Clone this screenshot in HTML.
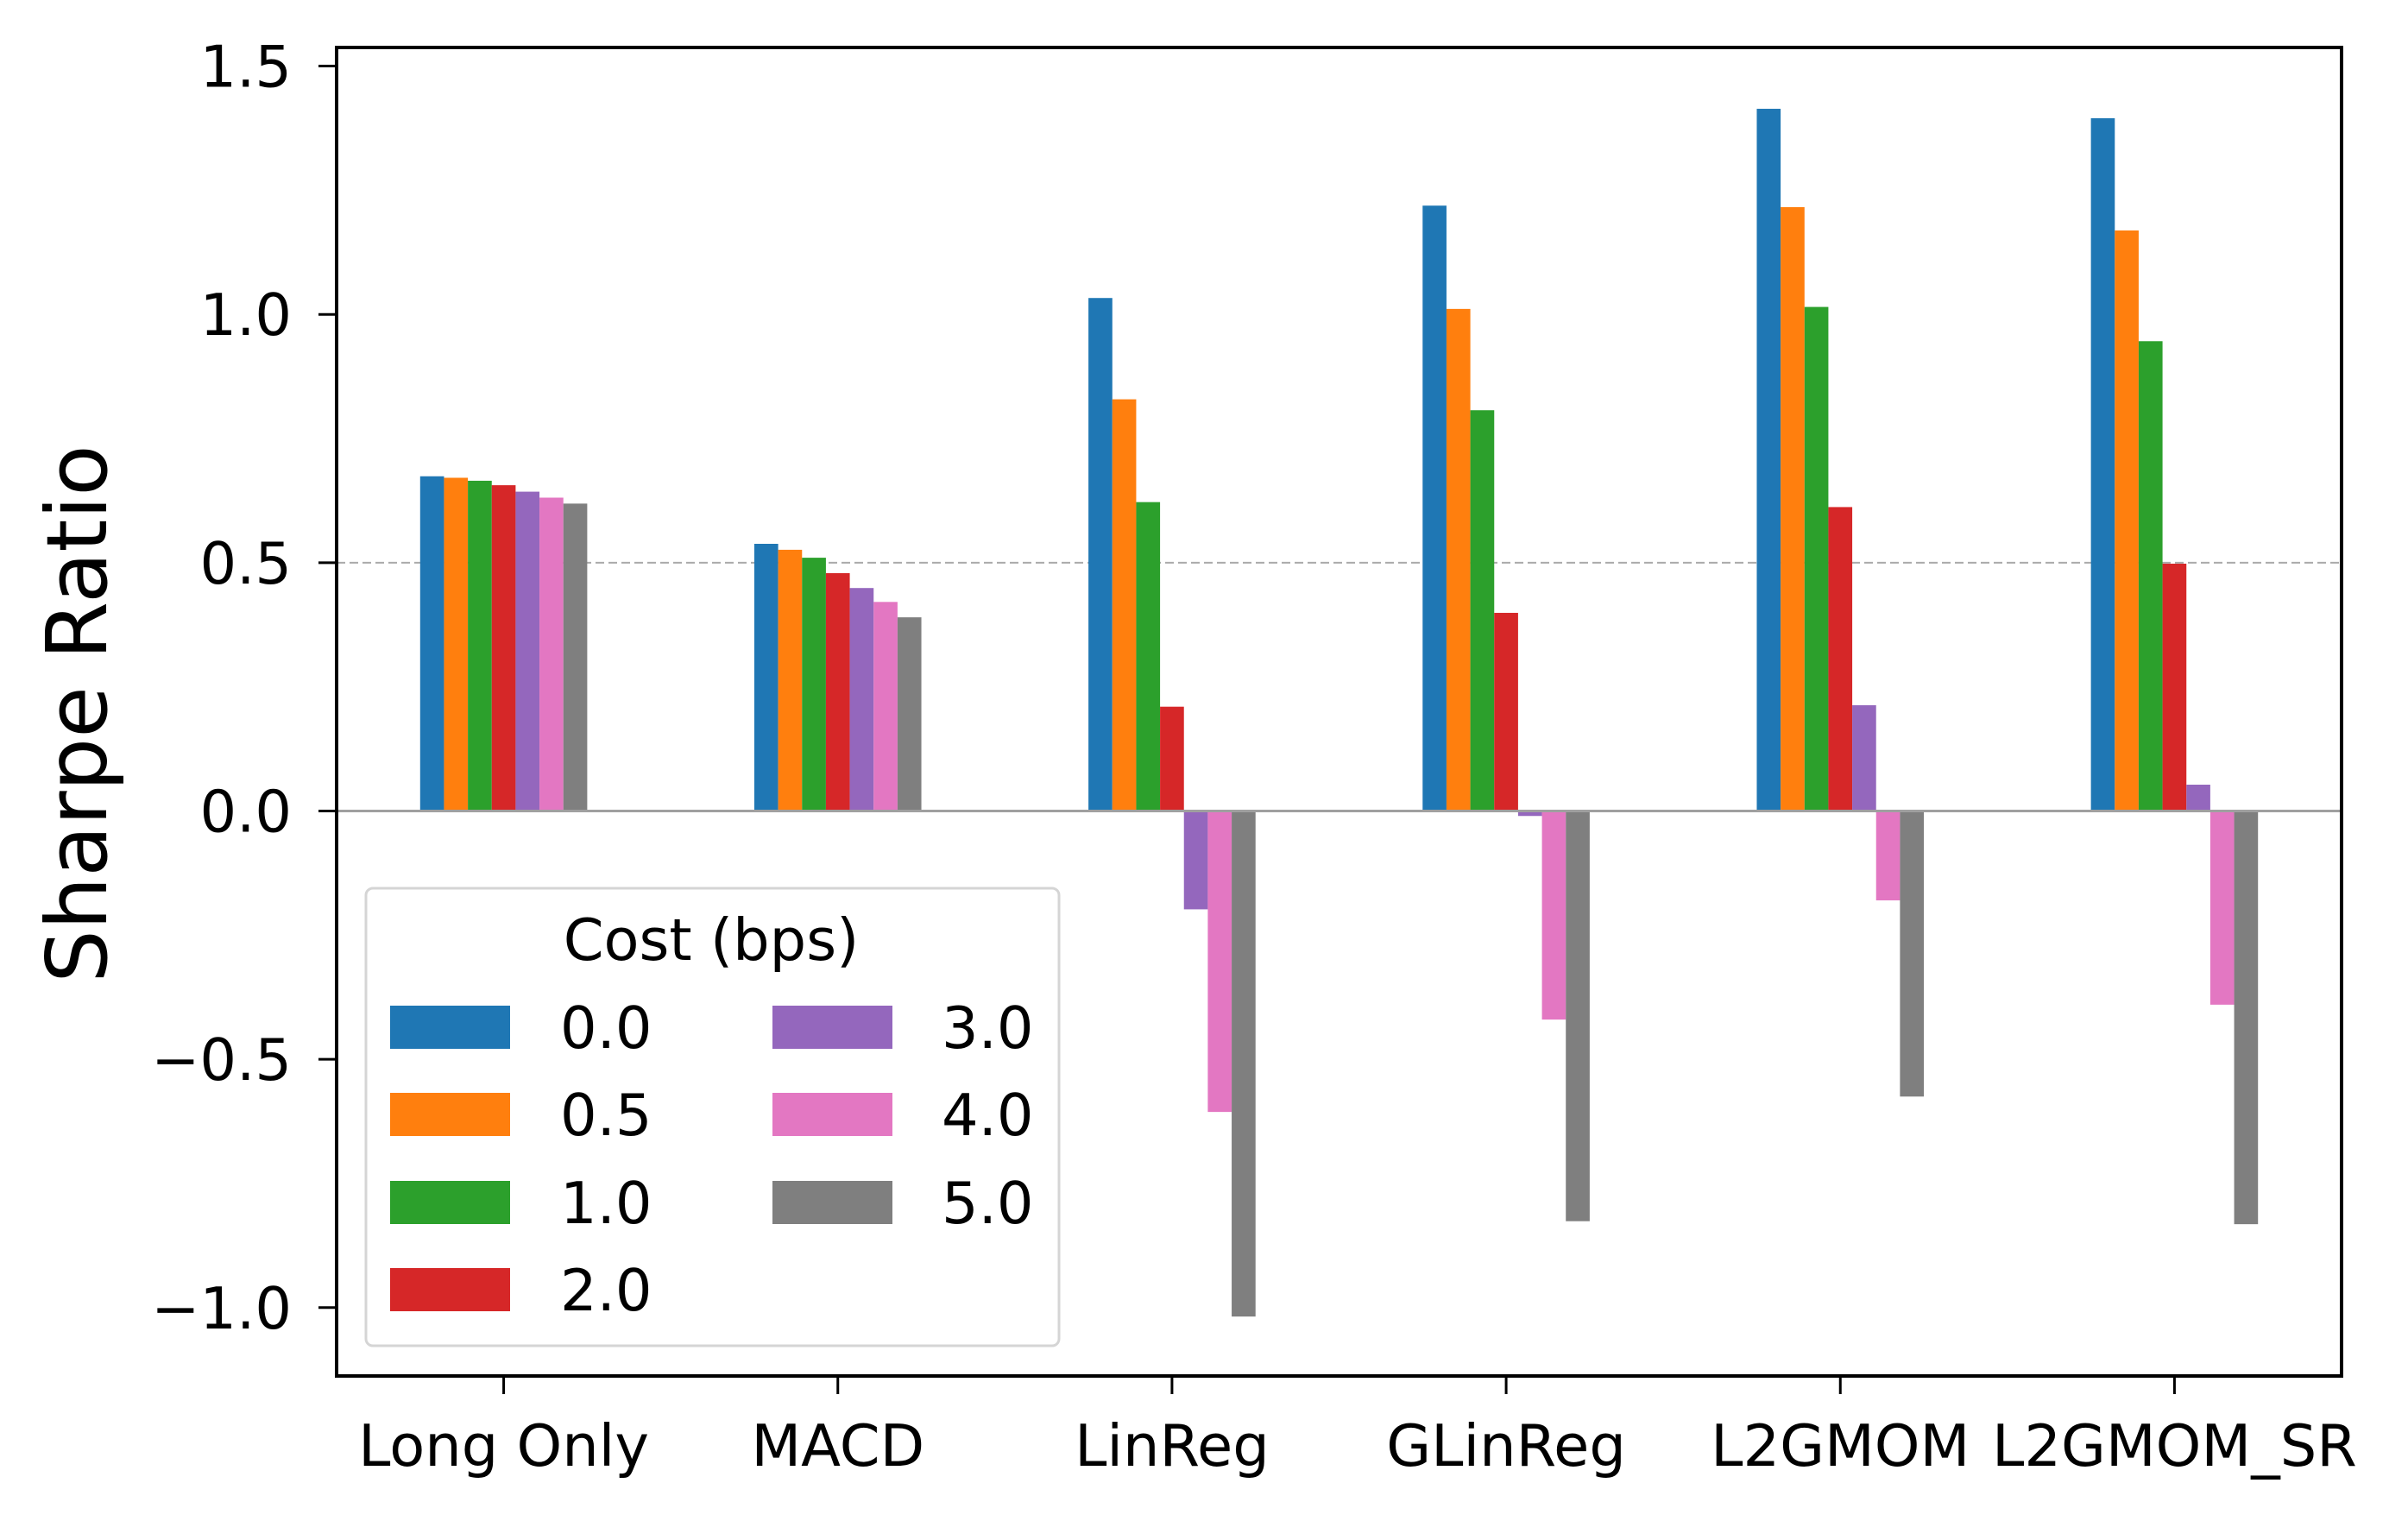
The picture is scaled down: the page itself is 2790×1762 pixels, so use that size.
<!DOCTYPE html>
<html><head><meta charset="utf-8"><style>
html,body{margin:0;padding:0;background:#fff;}
svg{display:block;font-family:"DejaVu Sans","Liberation Sans",sans-serif;}
</style></head><body>
<svg id="chart" width="2790" height="1762" viewBox="0 0 2790 1762" xmlns="http://www.w3.org/2000/svg">
<rect width="2790" height="1762" fill="#fff"/>
<g id="plot"></g>
</svg>
<script>
const categories = ["Long Only","MACD","LinReg","GLinReg","L2GMOM","L2GMOM_SR"];
const costs = ["0.0","0.5","1.0","2.0","3.0","4.0","5.0"];
const s0 = [0.674,0.538,1.033,1.219,1.414,1.395];
const s05 = [0.671,0.526,0.829,1.011,1.216,1.169];
const s1 = [0.665,0.510,0.622,0.807,1.015,0.946];
const s2 = [0.656,0.479,0.210,0.399,0.612,0.498];
const s3 = [0.643,0.449,-0.198,-0.010,0.213,0.053];
const s4 = [0.631,0.421,-0.606,-0.420,-0.180,-0.390];
const s5 = [0.619,0.390,-1.018,-0.826,-0.575,-0.832];
const yTicks = [1.5,1.0,0.5,0.0,-0.5,-1.0];
const yTickLabels = ["1.5","1.0","0.5","0.0","\u22120.5","\u22121.0"];
const colors = ["#1f77b4","#ff7f0e","#2ca02c","#d62728","#9467bd","#e377c2","#7f7f7f"];
const series = [s0,s05,s1,s2,s3,s4,s5];

const L=390,R=2713,T=55,B=1594;
const y0=939.5, perUnit=575.3;
function yS(v){return y0 - v*perUnit;}
const unit=(R-L)/6;
function xS(i){return L + (i+0.5)*unit;}
const NS="http://www.w3.org/2000/svg";
const g=document.getElementById('plot');
function mk(tag,attrs,parent){const e=document.createElementNS(NS,tag);for(const k in attrs)e.setAttribute(k,attrs[k]);(parent||g).appendChild(e);return e;}
const FS=67;

let dl=mk('line',{x1:L,x2:R,y1:yS(0.5),y2:yS(0.5),stroke:'#aaaaaa','stroke-width':2,'stroke-dasharray':'10,5'});



const bw=unit*0.5/7;
series.forEach((s,j)=>{
  s.forEach((v,i)=>{
    const x=xS(i)-unit*0.25+j*bw;
    const y=Math.min(yS(v),yS(0));
    const h=Math.abs(yS(v)-yS(0));
    const r=mk('rect',{x:x,y:y,width:bw,height:h,fill:colors[j]});
    
    
  });
});
let zl=mk('line',{x1:L,x2:R,y1:yS(0),y2:yS(0),stroke:'#a0a0a0','stroke-width':3});



let fr=mk('rect',{x:L,y:T,width:R-L,height:B-T,fill:'none',stroke:'#000','stroke-width':4});



yTicks.forEach((v,k)=>{
  const t=mk('line',{x1:L-21,x2:L,y1:yS(v),y2:yS(v),stroke:'#000','stroke-width':3});
  
  
  const tx=mk('text',{x:338,y:yS(v)+24,'text-anchor':'end','font-size':FS,fill:'#000'});
  tx.textContent=yTickLabels[k];
  
  
});
categories.forEach((c,i)=>{
  const t=mk('line',{x1:xS(i),x2:xS(i),y1:B,y2:B+21,stroke:'#000','stroke-width':3});
  
  
  const tx=mk('text',{x:xS(i),y:1698,'text-anchor':'middle','font-size':FS,fill:'#000'});
  tx.textContent=c;
  
  
});
let yl=mk('text',{x:0,y:0,'text-anchor':'middle','font-size':97,fill:'#000',transform:'translate(123,827) rotate(-90)'});
yl.textContent='Sharpe Ratio';



const lg=mk('g',{});


let lb=mk('rect',{x:424,y:1029,width:803,height:530,rx:8,fill:'#fff','fill-opacity':0.85,stroke:'#d5d5d5','stroke-width':3},lg);


let lt=mk('text',{x:824,y:1112,'text-anchor':'middle','font-size':FS,fill:'#000'},lg);
lt.textContent='Cost (bps)';


const rowY=[1190,1291,1393,1494];
costs.forEach((c,j)=>{
  const col=j<4?0:1, row=j<4?j:j-4;
  const px=col===0?452:895, tx=col===0?649:1091;
  const cy=rowY[row];
  const p=mk('rect',{x:px,y:cy-25,width:139,height:50,fill:colors[j]},lg);
  
  
  const t=mk('text',{x:tx,y:cy+24,'font-size':FS,fill:'#000'},lg);
  t.textContent=c;
  
  
});
</script>
</body></html>
